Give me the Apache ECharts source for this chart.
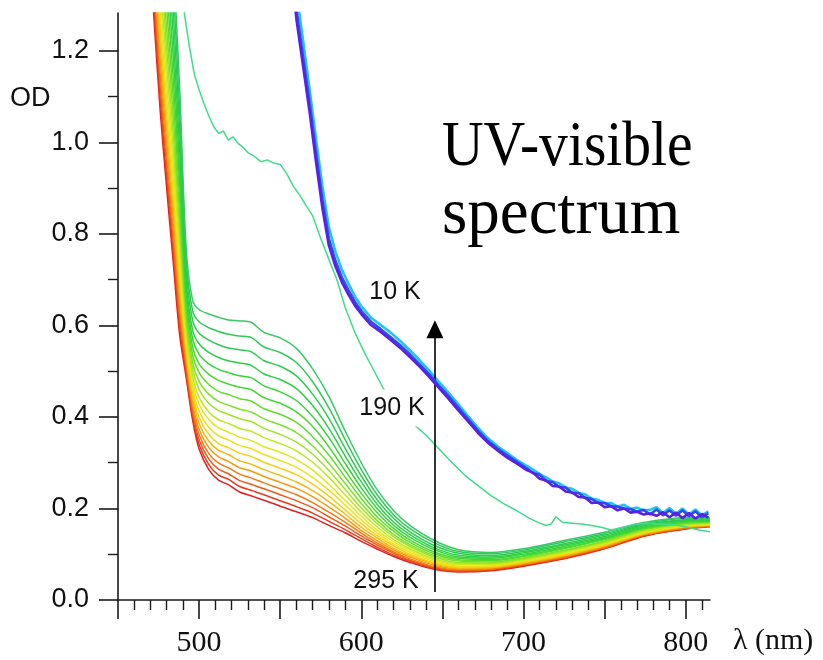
<!DOCTYPE html>
<html>
<head>
<meta charset="utf-8">
<script src="https://cdn.jsdelivr.net/npm/echarts@6/dist/echarts.min.js"></script>
<style>
  html, body { margin: 0; padding: 0; background: #ffffff; }
  #chart { width: 823px; height: 660px; }
</style>
</head>
<body>
<div id="chart"></div>
<script>
// Wavelength grid (nm) shared by the 295 K ... 205 K spectra
const wavelengths = [468, 472, 476, 480, 484, 488, 492, 496, 500, 506, 512, 518, 525, 532, 540,
  550, 560, 570, 580, 590, 600, 610, 620, 630, 645, 660, 680, 700, 725, 750, 775, 800, 815];

// Optical density, warm spectra (295 K down to 205 K in 5 K steps)
const od295 = [1.50, 1.28, 1.07, 0.90, 0.74, 0.58, 0.487, 0.393, 0.33, 0.285, 0.262, 0.252, 0.236, 0.228, 0.218, 0.205, 0.193, 0.18, 0.163, 0.147, 0.128, 0.111, 0.095, 0.082, 0.067, 0.061, 0.064, 0.074, 0.09, 0.112, 0.14, 0.155, 0.16];
const od290 = [1.527, 1.306, 1.095, 0.923, 0.761, 0.597, 0.496, 0.401, 0.340, 0.296, 0.273, 0.264, 0.248, 0.240, 0.230, 0.217, 0.204, 0.190, 0.172, 0.154, 0.134, 0.115, 0.098, 0.085, 0.069, 0.063, 0.065, 0.075, 0.091, 0.113, 0.141, 0.156, 0.161];
const od285 = [1.557, 1.335, 1.122, 0.948, 0.784, 0.616, 0.506, 0.411, 0.350, 0.308, 0.286, 0.276, 0.261, 0.253, 0.243, 0.230, 0.217, 0.202, 0.182, 0.162, 0.140, 0.120, 0.102, 0.087, 0.071, 0.064, 0.067, 0.077, 0.093, 0.114, 0.142, 0.157, 0.161];
const od280 = [1.588, 1.364, 1.150, 0.974, 0.808, 0.636, 0.516, 0.420, 0.361, 0.320, 0.299, 0.289, 0.275, 0.267, 0.256, 0.243, 0.230, 0.213, 0.192, 0.170, 0.146, 0.124, 0.105, 0.090, 0.073, 0.066, 0.068, 0.078, 0.094, 0.116, 0.143, 0.158, 0.162];
const od275 = [1.621, 1.396, 1.181, 1.002, 0.834, 0.657, 0.527, 0.430, 0.373, 0.333, 0.313, 0.303, 0.289, 0.282, 0.270, 0.257, 0.244, 0.226, 0.203, 0.179, 0.152, 0.129, 0.109, 0.094, 0.076, 0.068, 0.070, 0.079, 0.096, 0.117, 0.144, 0.159, 0.163];
const od270 = [1.656, 1.430, 1.213, 1.032, 0.861, 0.679, 0.539, 0.441, 0.386, 0.347, 0.327, 0.318, 0.304, 0.297, 0.285, 0.272, 0.258, 0.239, 0.215, 0.188, 0.159, 0.135, 0.113, 0.097, 0.079, 0.070, 0.071, 0.081, 0.097, 0.119, 0.145, 0.160, 0.164];
const od265 = [1.692, 1.465, 1.246, 1.063, 0.889, 0.702, 0.551, 0.452, 0.399, 0.362, 0.342, 0.333, 0.321, 0.314, 0.301, 0.288, 0.274, 0.253, 0.227, 0.197, 0.167, 0.140, 0.118, 0.100, 0.081, 0.072, 0.073, 0.083, 0.099, 0.120, 0.147, 0.161, 0.165];
const od260 = [1.731, 1.503, 1.282, 1.096, 0.920, 0.727, 0.564, 0.464, 0.413, 0.377, 0.359, 0.350, 0.338, 0.331, 0.318, 0.305, 0.290, 0.268, 0.240, 0.208, 0.175, 0.146, 0.122, 0.104, 0.084, 0.074, 0.075, 0.084, 0.101, 0.122, 0.148, 0.162, 0.165];
const od255 = [1.772, 1.542, 1.320, 1.130, 0.951, 0.753, 0.578, 0.477, 0.428, 0.394, 0.376, 0.367, 0.356, 0.349, 0.335, 0.323, 0.307, 0.284, 0.253, 0.218, 0.183, 0.152, 0.127, 0.108, 0.087, 0.077, 0.077, 0.086, 0.103, 0.124, 0.150, 0.163, 0.166];
const od250 = [1.816, 1.585, 1.360, 1.168, 0.986, 0.781, 0.592, 0.490, 0.443, 0.411, 0.394, 0.386, 0.375, 0.369, 0.355, 0.342, 0.326, 0.301, 0.268, 0.230, 0.192, 0.159, 0.132, 0.112, 0.090, 0.079, 0.079, 0.088, 0.105, 0.125, 0.151, 0.164, 0.167];
const od245 = [1.863, 1.630, 1.403, 1.207, 1.022, 0.811, 0.608, 0.505, 0.460, 0.430, 0.414, 0.406, 0.396, 0.390, 0.375, 0.362, 0.345, 0.319, 0.283, 0.242, 0.201, 0.166, 0.138, 0.117, 0.094, 0.082, 0.081, 0.090, 0.107, 0.127, 0.153, 0.166, 0.169];
const od240 = [1.911, 1.677, 1.448, 1.248, 1.059, 0.841, 0.624, 0.520, 0.478, 0.450, 0.434, 0.426, 0.417, 0.411, 0.396, 0.383, 0.366, 0.337, 0.299, 0.255, 0.211, 0.173, 0.143, 0.121, 0.097, 0.085, 0.083, 0.092, 0.109, 0.129, 0.155, 0.167, 0.170];
const od235 = [1.964, 1.728, 1.496, 1.293, 1.100, 0.875, 0.642, 0.536, 0.497, 0.471, 0.456, 0.449, 0.440, 0.435, 0.418, 0.406, 0.388, 0.357, 0.317, 0.269, 0.222, 0.181, 0.150, 0.126, 0.101, 0.088, 0.086, 0.095, 0.112, 0.132, 0.156, 0.169, 0.171];
const od230 = [2.019, 1.781, 1.547, 1.340, 1.143, 0.910, 0.660, 0.553, 0.516, 0.493, 0.480, 0.472, 0.465, 0.460, 0.442, 0.430, 0.411, 0.379, 0.335, 0.283, 0.233, 0.190, 0.156, 0.131, 0.105, 0.091, 0.088, 0.097, 0.114, 0.134, 0.158, 0.170, 0.172];
const od225 = [2.078, 1.838, 1.600, 1.390, 1.189, 0.947, 0.679, 0.571, 0.537, 0.516, 0.504, 0.497, 0.490, 0.486, 0.468, 0.455, 0.436, 0.401, 0.355, 0.299, 0.245, 0.199, 0.163, 0.137, 0.110, 0.094, 0.091, 0.100, 0.117, 0.136, 0.160, 0.172, 0.174];
const od220 = [2.140, 1.897, 1.657, 1.442, 1.237, 0.987, 0.700, 0.590, 0.560, 0.541, 0.530, 0.523, 0.518, 0.513, 0.494, 0.482, 0.462, 0.425, 0.375, 0.315, 0.258, 0.208, 0.170, 0.143, 0.114, 0.098, 0.094, 0.103, 0.120, 0.139, 0.163, 0.174, 0.175];
const od215 = [2.206, 1.961, 1.718, 1.498, 1.288, 1.029, 0.722, 0.611, 0.583, 0.568, 0.558, 0.551, 0.547, 0.543, 0.523, 0.511, 0.490, 0.450, 0.397, 0.332, 0.271, 0.218, 0.178, 0.149, 0.119, 0.102, 0.097, 0.106, 0.123, 0.142, 0.165, 0.176, 0.177];
const od210 = [2.276, 2.029, 1.782, 1.557, 1.343, 1.073, 0.745, 0.632, 0.608, 0.595, 0.587, 0.581, 0.577, 0.574, 0.553, 0.541, 0.519, 0.477, 0.420, 0.351, 0.285, 0.229, 0.186, 0.156, 0.125, 0.106, 0.101, 0.109, 0.127, 0.145, 0.167, 0.178, 0.178];
const od205 = [2.35, 2.10, 1.85, 1.62, 1.40, 1.12, 0.77, 0.655, 0.635, 0.625, 0.618, 0.612, 0.61, 0.607, 0.585, 0.573, 0.55, 0.505, 0.445, 0.37, 0.30, 0.24, 0.195, 0.163, 0.13, 0.11, 0.104, 0.112, 0.13, 0.148, 0.17, 0.18, 0.18];

const warmSpectra = [od295, od290, od285, od280, od275, od270, od265, od260, od255, od250,
  od245, od240, od235, od230, od225, od220, od215, od210, od205];
const warmColors = ['#e02020', '#e83a1a', '#ee5a14', '#f27a12', '#f59a10', '#f5b810', '#f2d012',
  '#eee018', '#dcea1c', '#bde820', '#9ee424', '#7ee028', '#60dc2c', '#46d832', '#34d43a',
  '#2cd044', '#2ccc4e', '#30c858', '#38c864'];

// 190 K spectrum
const wl190 = [488, 491, 494, 497, 500, 503, 506, 509, 512, 515, 518, 521, 524, 527, 530, 534, 538, 542, 546, 550,
  554, 558, 562, 566, 570, 575, 580, 585, 590, 596, 602, 608, 614, 620, 626, 632, 640, 648, 656, 664,
  672, 680, 688, 696, 704, 710, 714, 717, 720, 724, 730, 736, 742, 748, 754, 760, 768, 776, 784, 792, 800, 808, 815];
const od190 = [1.42, 1.28, 1.21, 1.15, 1.115, 1.085, 1.058, 1.035, 1.02, 1.025, 1.005, 1.012, 0.998, 0.99, 0.978, 0.97, 0.958, 0.962, 0.955, 0.952,
  0.932, 0.905, 0.885, 0.862, 0.84, 0.79, 0.745, 0.70, 0.64, 0.585, 0.54, 0.50, 0.46, 0.432, 0.41, 0.385, 0.36, 0.33, 0.30, 0.272,
  0.25, 0.228, 0.21, 0.195, 0.178, 0.168, 0.163, 0.166, 0.182, 0.17, 0.168, 0.166, 0.163, 0.159, 0.153, 0.158, 0.165, 0.168, 0.166, 0.165, 0.16, 0.153, 0.149];

// Low-temperature group (10 K), three overlapping scans
const wlCold = [556, 560, 564, 568, 572, 576, 580, 584, 588, 592, 596, 600,
  606, 612, 618, 624, 630, 636, 642, 648, 654, 660, 666, 672, 678, 684, 690, 696, 702,
  706, 710, 714, 718, 722, 726, 730, 734, 738, 742, 746, 750, 754, 758, 762, 766, 770,
  774, 778, 782, 786, 790, 794, 798, 802, 806, 810, 814];
const odColdA = [1.46, 1.33, 1.225, 1.12, 1.01, 0.905, 0.815, 0.762, 0.722, 0.692, 0.664, 0.642,
  0.617, 0.601, 0.585, 0.566, 0.546, 0.524, 0.501, 0.476, 0.452, 0.427, 0.401, 0.376, 0.354, 0.336, 0.321, 0.306, 0.293,
  0.285, 0.275, 0.268, 0.259, 0.255, 0.246, 0.243, 0.234, 0.231, 0.221, 0.219, 0.212, 0.212, 0.204, 0.208, 0.199, 0.202,
  0.196, 0.197, 0.203, 0.19, 0.201, 0.188, 0.2, 0.187, 0.198, 0.185, 0.194];
const odColdB = [1.42, 1.29, 1.19, 1.09, 0.98, 0.875, 0.79, 0.742, 0.705, 0.678, 0.652, 0.632,
  0.608, 0.592, 0.575, 0.557, 0.537, 0.515, 0.493, 0.468, 0.445, 0.42, 0.395, 0.37, 0.348, 0.331, 0.316, 0.302, 0.288,
  0.277, 0.274, 0.26, 0.258, 0.247, 0.246, 0.234, 0.234, 0.223, 0.221, 0.212, 0.212, 0.205, 0.204, 0.2, 0.199, 0.193,
  0.197, 0.187, 0.198, 0.185, 0.196, 0.184, 0.196, 0.183, 0.194, 0.181, 0.19];
const odColdC = [1.40, 1.27, 1.17, 1.07, 0.96, 0.857, 0.775, 0.73, 0.695, 0.668, 0.644, 0.625,
  0.601, 0.586, 0.569, 0.551, 0.531, 0.51, 0.487, 0.463, 0.439, 0.414, 0.39, 0.365, 0.344, 0.327, 0.311, 0.298, 0.284,
  0.278, 0.265, 0.261, 0.249, 0.248, 0.237, 0.235, 0.225, 0.224, 0.212, 0.213, 0.203, 0.205, 0.196, 0.2, 0.191, 0.193,
  0.187, 0.189, 0.184, 0.192, 0.181, 0.191, 0.179, 0.19, 0.178, 0.188, 0.18];
const coldColors = ['#22c4f2', '#2a4cf0', '#5a20e4'];

// Axis ticks
const yMajorTicks = [0, 0.2, 0.4, 0.6, 0.8, 1.0, 1.2];
const yMinorTicks = [0.1, 0.3, 0.5, 0.7, 0.9, 1.1];
const xMajorTicks = [450, 500, 550, 600, 650, 700, 750, 800];
const xMinorTicks = [460, 470, 480, 490, 510, 520, 530, 540, 560, 570, 580, 590, 610, 620, 630, 640,
  660, 670, 680, 690, 710, 720, 730, 740, 760, 770, 780, 790, 810];
const xLabelTicks = [500, 600, 700, 800];

// Temperature arrow (nm, OD)
const arrowX = 645.4;
const arrowFrom = 0.0175;
const arrowTo = 0.592;

const pairs = (xs, ys) => xs.map((x, i) => [x, ys[i]]);

const axisColor = '#1a1a1a';
const X_MIN = 450, X_MAX = 815, Y_MIN = 0, Y_MAX = 1.283;
const SANS = '"Liberation Sans", Arial, sans-serif';
const SERIF = '"Liberation Serif", "Times New Roman", serif';

const series = [];
warmSpectra.forEach((arr, i) => {
  series.push({
    type: 'line', data: pairs(wavelengths, arr), showSymbol: false, smooth: 0.3,
    lineStyle: { color: warmColors[i], width: 1.5 }, z: 2, silent: true
  });
});
series.push({
  type: 'line', data: pairs(wl190, od190), showSymbol: false,
  lineStyle: { color: '#3edc8c', width: 1.5 }, z: 3, silent: true
});
[odColdA, odColdB, odColdC].forEach((arr, i) => {
  series.push({
    type: 'line', data: pairs(wlCold, arr), showSymbol: false,
    lineStyle: { color: coldColors[i], width: 2.6 }, z: 4 + i, silent: true
  });
});
series.push({
  type: 'line', data: [], silent: true,
  markLine: {
    silent: true, symbol: ['none', 'triangle'], symbolSize: [17, 18],
    label: { show: false },
    lineStyle: { color: '#000', width: 1.6, type: 'solid' },
    data: [[{ coord: [arrowX, arrowFrom] }, { coord: [arrowX, arrowTo] }]]
  }
});

const chart = echarts.init(document.getElementById('chart'), null, { renderer: 'canvas' });
chart.setOption({
  animation: false,
  backgroundColor: '#ffffff',
  grid: { left: 118, right: 113, top: 13, bottom: 60, containLabel: false, outerBoundsMode: 'none' },
  xAxis: [
    {
      type: 'value', min: X_MIN, max: X_MAX, position: 'bottom', offset: 3,
      axisLine: { show: true, lineStyle: { color: axisColor, width: 1.6 } },
      axisTick: { show: true, customValues: xMajorTicks, length: 19, lineStyle: { color: axisColor, width: 1.6 } },
      axisLabel: { customValues: xLabelTicks, margin: 25, color: '#111', fontFamily: SERIF, fontSize: 30 },
      splitLine: { show: false }
    },
    {
      type: 'value', min: X_MIN, max: X_MAX, position: 'bottom', offset: 3,
      axisLine: { show: false },
      axisTick: { show: true, customValues: xMinorTicks, length: 10, lineStyle: { color: axisColor, width: 1.4 } },
      axisLabel: { show: false },
      splitLine: { show: false }
    }
  ],
  yAxis: [
    {
      type: 'value', min: Y_MIN, max: Y_MAX, position: 'left',
      axisLine: { show: true, lineStyle: { color: axisColor, width: 1.6 } },
      axisTick: { show: true, customValues: yMajorTicks, length: 19, lineStyle: { color: axisColor, width: 1.6 } },
      axisLabel: { customValues: yMajorTicks, margin: 29, color: '#111', fontFamily: SANS, fontSize: 27,
        formatter: v => v.toFixed(1) },
      splitLine: { show: false }
    },
    {
      type: 'value', min: Y_MIN, max: Y_MAX, position: 'left',
      axisLine: { show: false },
      axisTick: { show: true, customValues: yMinorTicks, length: 10, lineStyle: { color: axisColor, width: 1.4 } },
      axisLabel: { show: false },
      splitLine: { show: false }
    }
  ],
  graphic: [
    { type: 'text', x: 10, y: 99, style: { text: 'OD', fill: '#111', font: '27px ' + SANS, align: 'left', verticalAlign: 'middle' } },
    { type: 'text', x: 442, y: 148, scaleX: 0.9, style: { text: 'UV-visible', fill: '#000', font: '64px ' + SERIF, align: 'left', verticalAlign: 'middle' } },
    { type: 'text', x: 442, y: 216, style: { text: 'spectrum', fill: '#000', font: '65px ' + SERIF, align: 'left', verticalAlign: 'middle' } },
    { type: 'text', x: 733, y: 641, style: { text: 'λ (nm)', fill: '#111', font: '30px ' + SERIF, align: 'left', verticalAlign: 'middle' } },
    { type: 'text', x: 395, y: 292, z: 20, style: { text: '10 K', fill: '#111', font: '25px ' + SANS, align: 'center', verticalAlign: 'middle' } },
    { type: 'text', x: 392, y: 408, z: 20, style: { text: '190 K', fill: '#111', font: '25px ' + SANS, align: 'center', verticalAlign: 'middle', backgroundColor: '#ffffff', padding: [6, 3] } },
    { type: 'text', x: 386, y: 581, z: 20, style: { text: '295 K', fill: '#111', font: '25px ' + SANS, align: 'center', verticalAlign: 'middle' } }
  ],
  series: series
});
</script>
</body>
</html>
